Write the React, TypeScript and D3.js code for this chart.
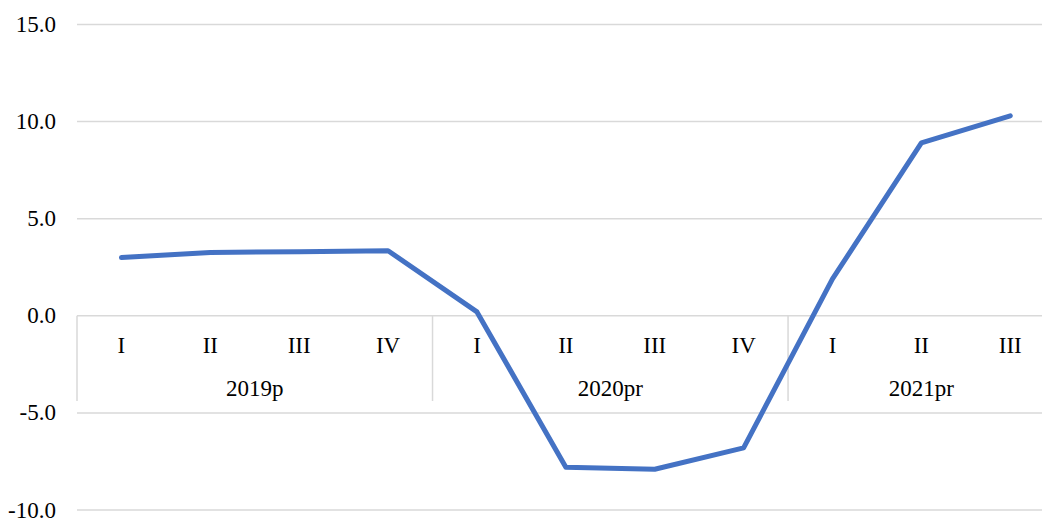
import React from "react";
import * as d3 from "d3";

const quarters = ["I", "II", "III", "IV", "I", "II", "III", "IV", "I", "II", "III"];
const groups = ["2019p", "2020pr", "2021pr"];
const groupSizes = [4, 4, 3];
const values = [3.0, 3.26, 3.3, 3.35, 0.2, -7.8, -7.9, -6.8, 1.9, 8.9, 10.3];
const yTicks = [-10, -5, 0, 5, 10, 15];

const W = 1042;
const H = 520;

export default function App() {
  const x = d3
    .scaleBand<number>()
    .domain(d3.range(quarters.length))
    .range([77, 1054.7])
    .padding(0);
  const y = d3.scaleLinear().domain([-10, 15]).range([510, 24.5]);
  const cx = (i: number) => (x(i) as number) + x.bandwidth() / 2;
  const line = d3
    .line<number>()
    .x((_, i) => cx(i))
    .y((d) => y(d));

  const font = "'Liberation Serif', 'Times New Roman', serif";
  const fs = 23;
  const y0 = y(0);
  const dividerBottom = 401;

  const starts: number[] = [];
  let acc = 0;
  groupSizes.forEach((s) => {
    starts.push(acc);
    acc += s;
  });

  return (
    <svg
      width={W}
      height={H}
      style={{ position: "absolute", left: 0, top: 0, background: "#fff" }}
      fontFamily={font}
    >
      {yTicks.map((t) => (
        <g key={t}>
          <line x1={77} x2={W} y1={y(t)} y2={y(t)} stroke="#d9d9d9" strokeWidth={1.5} />
          <text
            x={56}
            y={y(t)}
            textAnchor="end"
            dominantBaseline="central"
            fontSize={fs}
            fill="#000"
          >
            {t.toFixed(1)}
          </text>
        </g>
      ))}
      {starts.map((s, gi) => (
        <line
          key={"d" + gi}
          x1={x(s) as number}
          x2={x(s) as number}
          y1={y0}
          y2={dividerBottom}
          stroke="#d9d9d9"
          strokeWidth={1.5}
        />
      ))}
      {quarters.map((q, i) => (
        <text
          key={"q" + i}
          x={cx(i)}
          y={345}
          textAnchor="middle"
          dominantBaseline="central"
          fontSize={fs}
          fill="#000"
        >
          {q}
        </text>
      ))}
      {groups.map((g, gi) => {
        const a = x(starts[gi]) as number;
        const b = a + x.bandwidth() * groupSizes[gi];
        return (
          <text
            key={"g" + gi}
            x={(a + b) / 2}
            y={388}
            textAnchor="middle"
            dominantBaseline="central"
            fontSize={fs}
            fill="#000"
          >
            {g}
          </text>
        );
      })}
      <path
        d={line(values) || ""}
        fill="none"
        stroke="#4472C4"
        strokeWidth={5}
        strokeLinecap="round"
        strokeLinejoin="round"
      />
    </svg>
  );
}
